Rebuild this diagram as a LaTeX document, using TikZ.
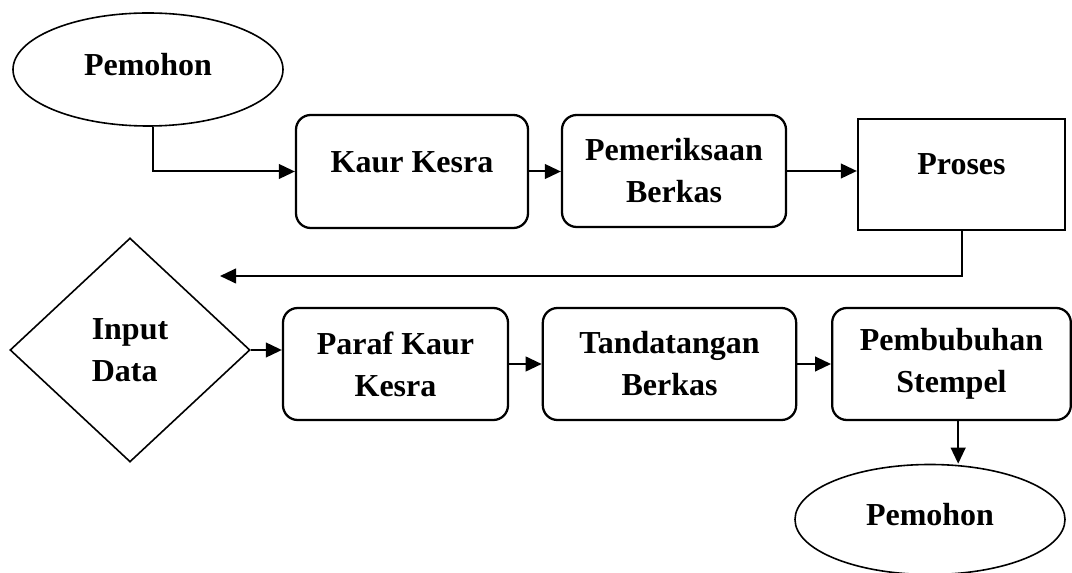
\documentclass[tikz,border=0pt]{standalone}
\usepackage{fontspec}
\setmainfont{Liberation Serif}
\usetikzlibrary{shapes.geometric,arrows.meta}

\tikzset{
  box/.style={draw,line width=1.7pt,rounded corners=11pt,align=center,inner sep=2pt},
  sbox/.style={draw,line width=1.7pt,align=center,inner sep=2pt},
  term/.style={draw,ellipse,line width=1.2pt,inner sep=0pt},
  decide/.style={draw,diamond,line width=1.2pt,align=left,inner sep=0pt},
  flow/.style={line width=1.5pt,-{Triangle[length=12pt,width=11pt]}},
}

\begin{document}
\begin{tikzpicture}[x=0.75pt,y=0.75pt,yscale=-1,xscale=1,
  font=\fontsize{24}{31.5}\selectfont\bfseries]
\useasboundingbox (0,0) rectangle (1072,573);

%Shape: Ellipse (start)
\node [term,minimum width=202.5pt,minimum height=84.75pt,text depth=8pt] (pem1) at (148,69.5) {Pemohon};
%Shape: Rounded Rect
\node [box,minimum width=174pt,minimum height=84.75pt,text depth=14pt] (kaur) at (412,171.5) {Kaur Kesra};
%Shape: Rounded Rect
\node [box,minimum width=168pt,minimum height=84pt] (periksa) at (674,171) {Pemeriksaan\\Berkas};
%Shape: Rectangle
\node [sbox,minimum width=155.25pt,minimum height=83.25pt,text depth=15pt] (proses) at (961.5,174.5) {Proses};

%Shape: Diamond
\node [decide,minimum width=180pt,minimum height=168pt] (input) at (130,350) {Input\\Data};
%Shape: Rounded Rect
\node [box,minimum width=168.75pt,minimum height=84pt] (paraf) at (395.5,364) {Paraf Kaur\\Kesra};
%Shape: Rounded Rect
\node [box,minimum width=190pt,minimum height=84pt] (tanda) at (669.5,364) {Tandatangan\\Berkas};
%Shape: Rounded Rect
\node [box,minimum width=179pt,minimum height=84pt] (stempel) at (951.5,364) {Pembubuhan\\Stempel};
%Shape: Ellipse (end)
\node [term,minimum width=202.5pt,minimum height=82.5pt,text depth=8pt] (pem2) at (930,519.5) {Pemohon};

\coordinate (back) at (220,276);

%Connectors
\draw [flow] ([xshift=3.75pt]pem1.south) |- (kaur.west);
\draw [flow] (kaur.east) -- (kaur.east -| periksa.west);
\draw [flow] (periksa.east) -- (periksa.east -| proses.west);
\draw [flow] (proses.south) |- (back);
\draw [flow] (input.east) -- (input.east -| paraf.west);
\draw [flow] (paraf.east) -- (tanda.west);
\draw [flow] (tanda.east) -- (stempel.west);
\draw [flow] ([xshift=5pt]stempel.south) -- ([xshift=5pt]stempel.south |- pem2.north);
\end{tikzpicture}
\end{document}
